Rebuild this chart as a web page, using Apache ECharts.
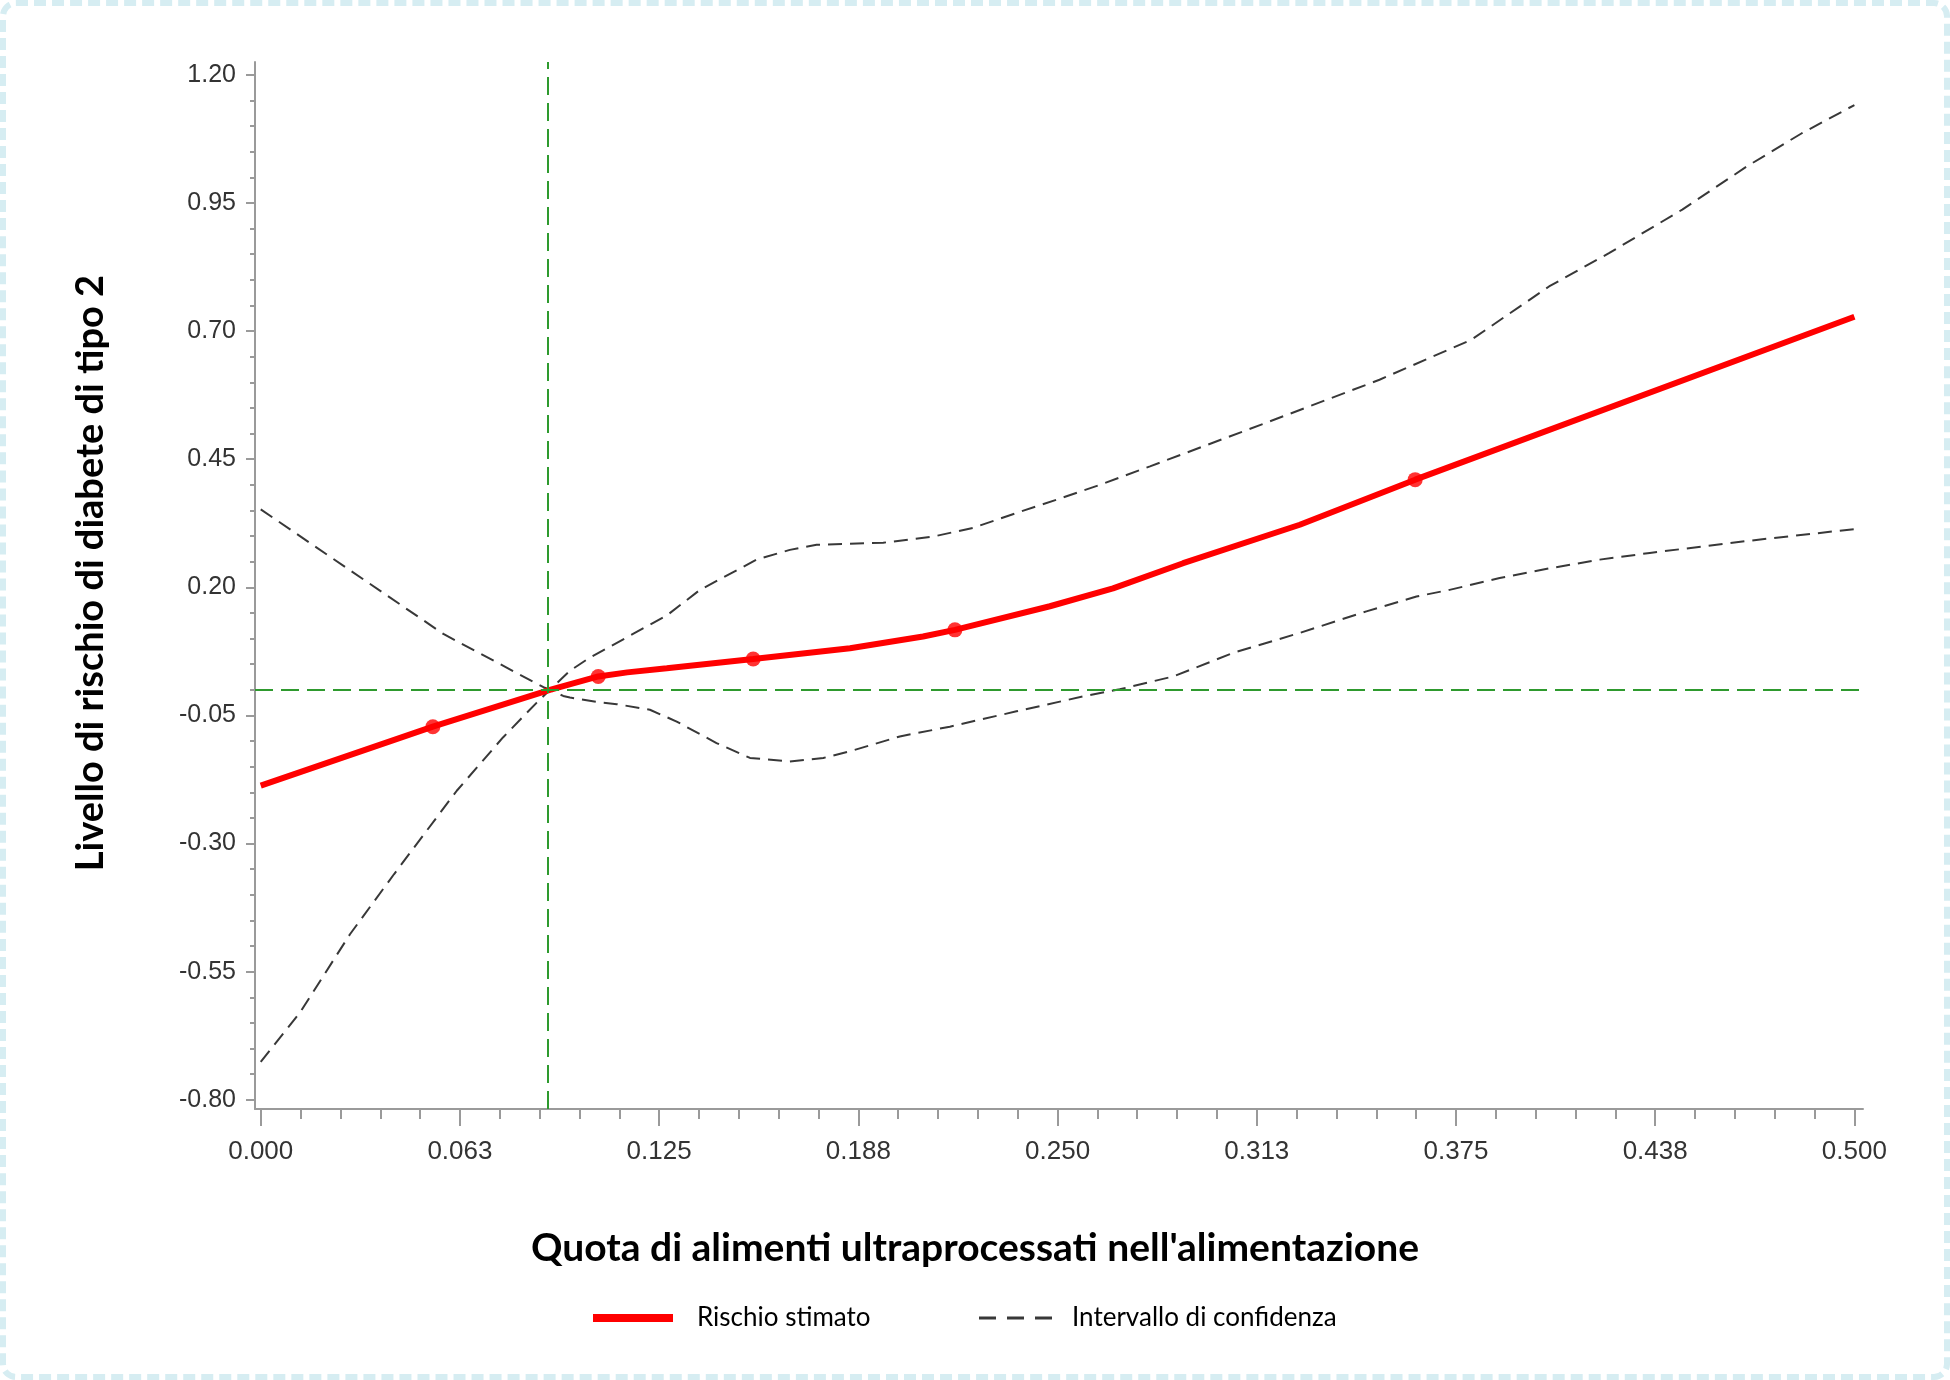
<!DOCTYPE html>
<html>
<head>
<meta charset="utf-8">
<title>Rischio di diabete di tipo 2</title>
<script src="https://cdn.jsdelivr.net/npm/echarts@6.0.0/dist/echarts.min.js"></script>
<style>
    html, body { margin: 0; padding: 0; background: #fff; }
    #chart { position: absolute; left: 0; top: 0; width: 1950px; height: 1380px; }
    #frame {
        position: absolute; left: 0; top: 0; width: 1950px; height: 1380px;
        box-sizing: border-box; border: 6px dashed #d6edf2; border-radius: 16px;
        pointer-events: none;
    }
</style>
</head>
<body>
<div id="chart"></div>
<div id="frame"></div>
<script>
// stima del rischio (curva rossa)
var riskX = [0, 0.054, 0.0907, 0.1059, 0.115, 0.1274, 0.1545, 0.1849, 0.2078, 0.2178, 0.2476, 0.2674, 0.2894, 0.326, 0.3622, 0.5];
var riskY = [-0.187, -0.072, 0.0, 0.026, 0.034, 0.042, 0.060, 0.081, 0.104, 0.117, 0.163, 0.198, 0.247, 0.322, 0.410, 0.728];
// nodi evidenziati sulla curva
var knotX = [0.054, 0.1059, 0.1545, 0.2178, 0.3622];
var knotY = [-0.072, 0.026, 0.060, 0.117, 0.410];
// limite superiore dell'intervallo
var upperX = [0, 0.0573, 0.0887, 0.0907, 0.097, 0.1033, 0.1274, 0.1378, 0.1556, 0.166, 0.1744, 0.1953, 0.211, 0.2235, 0.2371, 0.2497, 0.2633, 0.279, 0.315, 0.351, 0.3798, 0.4042, 0.423, 0.446, 0.4662, 0.4835, 0.5];
var upperY = [0.352, 0.109, 0.005, 0.0, 0.037, 0.063, 0.145, 0.195, 0.254, 0.273, 0.283, 0.287, 0.299, 0.316, 0.345, 0.371, 0.400, 0.436, 0.520, 0.605, 0.683, 0.787, 0.852, 0.937, 1.021, 1.086, 1.141];
// limite inferiore dell'intervallo
var lowerX = [0, 0.0123, 0.028, 0.0418, 0.0552, 0.0615, 0.076, 0.0866, 0.0907, 0.0949, 0.097, 0.107, 0.1117, 0.1221, 0.1305, 0.143, 0.1535, 0.166, 0.1765, 0.1849, 0.2005, 0.2162, 0.2371, 0.258, 0.2695, 0.2863, 0.3051, 0.326, 0.3469, 0.3626, 0.373, 0.3887, 0.4044, 0.4201, 0.4358, 0.4672, 0.5];
var lowerY = [-0.726, -0.63, -0.477, -0.36, -0.249, -0.197, -0.093, -0.025, 0.0, -0.012, -0.015, -0.025, -0.028, -0.039, -0.062, -0.104, -0.133, -0.140, -0.133, -0.120, -0.091, -0.072, -0.042, -0.013, 0.001, 0.026, 0.072, 0.111, 0.153, 0.182, 0.195, 0.218, 0.237, 0.254, 0.267, 0.291, 0.3135];
// valore di riferimento (linee verdi)
var refX = 0.0907;
var refY = 0;
// etichette degli assi
var xTicks = [0, 0.0625, 0.125, 0.1875, 0.25, 0.3125, 0.375, 0.4375, 0.5];
var yTicks = [-0.80, -0.55, -0.30, -0.05, 0.20, 0.45, 0.70, 0.95, 1.20];

function pairs(xs, ys) {
    var out = [];
    for (var i = 0; i < xs.length; i++) {
        out.push([xs[i], ys[i]]);
    }
    return out;
}
// tacche minori: 5 divisioni tra due tacche principali
function minorTicks(major) {
    var out = [];
    for (var i = 0; i < major.length - 1; i++) {
        var step = (major[i + 1] - major[i]) / 5;
        for (var k = 1; k < 5; k++) {
            out.push(major[i] + step * k);
        }
    }
    return out;
}

var axisGray = '#9a9a9a';
var tickFont = 'Liberation Sans';
var ciColor = '#383838';
var red = '#ff0000';
var green = '#2e9a2e';

var chart = echarts.init(document.getElementById('chart'));
var option = {
    animation: false,
    backgroundColor: '#fff',
    grid: { left: 255, right: 87, top: 62, bottom: 271, containLabel: false },
    title: {
        text: "Quota di alimenti ultraprocessati nell'alimentazione",
        left: 'center',
        top: 1224,
        textStyle: { fontFamily: 'Lato', fontWeight: 'bold', fontSize: 39, color: '#000' }
    },
    legend: [
        {
            data: ['Rischio stimato'],
            left: 588, top: 1300,
            icon: 'rect', itemWidth: 80, itemHeight: 8,
            selectedMode: false,
            textStyle: { fontFamily: 'Lato', fontSize: 26, color: '#000', padding: [0, 0, 0, 19] }
        },
        {
            data: ['Intervallo di confidenza'],
            left: 974, top: 1300,
            icon: 'path://M0,0h17v3h-17zM28,0h17v3h-17zM56,0h17v3h-17z',
            itemWidth: 73, itemHeight: 3,
            selectedMode: false,
            textStyle: { fontFamily: 'Lato', fontSize: 26, color: '#000', padding: [0, 0, 0, 15] }
        }
    ],
    graphic: [{
        type: 'text',
        x: 91, y: 573,
        rotation: Math.PI / 2,
        style: {
            text: 'Livello di rischio di diabete di tipo 2',
            font: 'bold 38px Lato',
            fill: '#000',
            align: 'center',
            verticalAlign: 'middle'
        }
    }],
    xAxis: [
        {
            type: 'value', min: -0.0018, max: 0.5027, position: 'bottom',
            axisLine: { onZero: false, lineStyle: { color: axisGray, width: 2 } },
            axisTick: { customValues: xTicks, length: 17, lineStyle: { color: axisGray, width: 2 } },
            axisLabel: {
                customValues: xTicks, margin: 30,
                fontFamily: tickFont, fontSize: 26, color: '#333',
                formatter: function (v) { return v.toFixed(3); }
            },
            splitLine: { show: false }
        },
        {
            type: 'value', min: -0.0018, max: 0.5027, position: 'bottom',
            axisLine: { show: false, onZero: false },
            axisTick: { customValues: minorTicks(xTicks), length: 10, lineStyle: { color: axisGray, width: 2 } },
            axisLabel: { show: false },
            splitLine: { show: false }
        }
    ],
    yAxis: [
        {
            type: 'value', min: -0.818, max: 1.225, position: 'left',
            axisLine: { show: true, onZero: false, lineStyle: { color: axisGray, width: 2 } },
            axisTick: { show: true, customValues: yTicks, length: 9, lineStyle: { color: axisGray, width: 2 } },
            axisLabel: {
                customValues: yTicks, margin: 19,
                fontFamily: tickFont, fontSize: 25, color: '#333',
                formatter: function (v) { return v.toFixed(2); }
            },
            splitLine: { show: false }
        },
        {
            type: 'value', min: -0.818, max: 1.225, position: 'left',
            axisLine: { show: false, onZero: false },
            axisTick: { show: true, customValues: minorTicks(yTicks), length: 5, lineStyle: { color: axisGray, width: 2 } },
            axisLabel: { show: false },
            splitLine: { show: false }
        }
    ],
    series: [
        {
            name: 'riferimento',
            type: 'line',
            data: [],
            z: 1,
            markLine: {
                silent: true,
                symbol: 'none',
                label: { show: false },
                lineStyle: { color: green, width: 2, type: [18, 8] },
                data: [{ xAxis: refX }, { yAxis: refY }]
            }
        },
        {
            name: 'Intervallo di confidenza',
            type: 'line',
            data: pairs(upperX, upperY),
            showSymbol: false,
            color: ciColor,
            lineStyle: { color: ciColor, width: 2, type: [14, 8] },
            z: 2
        },
        {
            name: 'Intervallo di confidenza',
            type: 'line',
            data: pairs(lowerX, lowerY),
            showSymbol: false,
            color: ciColor,
            lineStyle: { color: ciColor, width: 2, type: [14, 8] },
            z: 2
        },
        {
            name: 'Rischio stimato',
            type: 'line',
            data: pairs(riskX, riskY),
            showSymbol: false,
            color: red,
            lineStyle: { color: red, width: 6 },
            z: 3
        },
        {
            name: 'nodi',
            type: 'scatter',
            data: pairs(knotX, knotY),
            symbolSize: 15,
            itemStyle: { color: red },
            z: 4
        }
    ]
};
chart.setOption(option);
</script>
</body>
</html>
